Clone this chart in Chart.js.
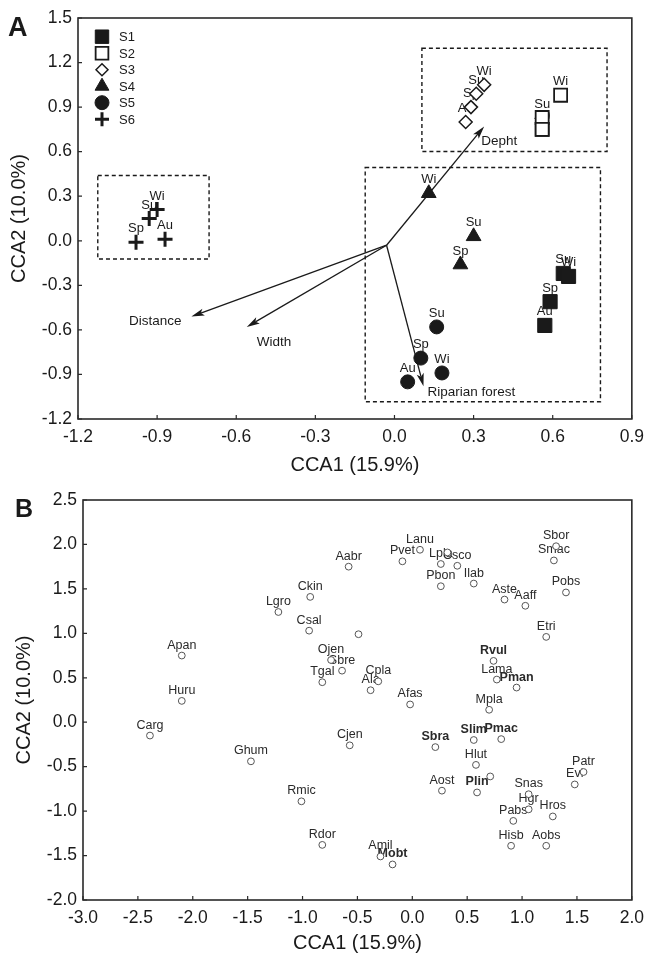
<!DOCTYPE html>
<html>
<head>
<meta charset="utf-8">
<title>CCA ordination</title>
<script src="https://cdn.jsdelivr.net/npm/chart.js@4.4.1/dist/chart.umd.min.js"></script>
<style>
  html, body { margin: 0; padding: 0; background: #fff; }
  .panel { position: absolute; left: 0; }
  #wrapA { top: 0; }
  #wrapB { top: 480px; }
</style>
</head>
<body>
<div class="panel" id="wrapA"><canvas id="chartA" width="652" height="480"></canvas></div>
<div class="panel" id="wrapB"><canvas id="chartB" width="652" height="481"></canvas></div>
<script>
// ---- Panel A: sampling sites by season ----
const siteNames = ["S1", "S2", "S3", "S4", "S5", "S6"];
const siteSeasons = [
  ["Su", "Wi", "Sp", "Au"],
  ["Wi", "Su", "Sp", "Au"],
  ["Au", "Sp", "Su", "Wi"],
  ["Wi", "Su", "Sp"],
  ["Su", "Sp", "Wi", "Au"],
  ["Wi", "Su", "Sp", "Au"],
];
const siteCCA1 = [
  [0.64, 0.66, 0.59, 0.57],
  [0.63, 0.56, 0.56, 0.56],
  [0.27, 0.29, 0.31, 0.34],
  [0.13, 0.30, 0.25],
  [0.16, 0.10, 0.18, 0.05],
  [-0.90, -0.93, -0.98, -0.87],
];
const siteCCA2 = [
  [-0.22, -0.24, -0.41, -0.57],
  [0.98, 0.83, 0.75, 0.75],
  [0.80, 0.90, 0.99, 1.05],
  [0.32, 0.03, -0.16],
  [-0.58, -0.79, -0.89, -0.95],
  [0.21, 0.15, -0.01, 0.01],
];

// environmental vectors (tips) and their common origin
const envNames = ["Depht", "Distance", "Width", "Riparian forest"];
const envCCA1 = [0.34, -0.77, -0.56, 0.11];
const envCCA2 = [0.77, -0.51, -0.58, -0.98];
const envOrigin = [-0.03, -0.03];

// dashed group boxes: [from, to] on each axis
const boxCCA1 = [[-1.125, -0.703], [0.104, 0.806], [-0.111, 0.781]];
const boxCCA2 = [[0.44, -0.123], [1.296, 0.601], [0.493, -1.084]];

const ticksA_x = [-1.2, -0.9, -0.6, -0.3, 0, 0.3, 0.6, 0.9];
const ticksA_y = [-1.2, -0.9, -0.6, -0.3, 0, 0.3, 0.6, 0.9, 1.2, 1.5];

// ---- Panel B: species scores ----
const speciesNames = ["Lanu", "Pvet", "Lpla", "Csco", "", "Aabr", "Pbon", "Ilab", "Sbor", "Smac",
  "Pobs", "Aste", "Aaff", "Ckin", "Lgro", "Csal", "", "Etri", "Apan", "Ojen",
  "Sbre", "Tgal", "Cpla", "Ala", "Rvul", "Lama", "Pman", "Huru", "Afas", "Mpla",
  "Carg", "Cjen", "Sbra", "Slim", "Pmac", "Ghum", "Hlut", "", "Aost", "Plin",
  "Patr", "Evi", "Snas", "Hgr", "Rmic", "Pabs", "Hros", "Hisb", "Aobs", "Rdor",
  "Amil", "Mobt"];
const speciesCCA1 = [0.07, -0.09, 0.26, 0.41, 0.32, -0.58, 0.26, 0.56, 1.31, 1.29,
  1.40, 0.84, 1.03, -0.93, -1.22, -0.94, -0.49, 1.22, -2.10, -0.74,
  -0.64, -0.82, -0.31, -0.38, 0.74, 0.77, 0.95, -2.10, -0.02, 0.70,
  -2.39, -0.57, 0.21, 0.56, 0.81, -1.47, 0.58, 0.71, 0.27, 0.59,
  1.56, 1.48, 1.06, 1.06, -1.01, 0.92, 1.28, 0.90, 1.22, -0.82,
  -0.29, -0.18];
const speciesCCA2 = [1.94, 1.81, 1.78, 1.76, 1.91, 1.75, 1.53, 1.56, 1.98, 1.82,
  1.46, 1.38, 1.31, 1.41, 1.24, 1.03, 0.99, 0.96, 0.75, 0.70,
  0.58, 0.45, 0.46, 0.36, 0.69, 0.48, 0.39, 0.24, 0.20, 0.14,
  -0.15, -0.26, -0.28, -0.20, -0.19, -0.44, -0.48, -0.61, -0.77, -0.79,
  -0.56, -0.70, -0.81, -0.98, -0.89, -1.11, -1.06, -1.39, -1.39, -1.38,
  -1.51, -1.60];
const boldSpecies = ["Rvul", "Pman", "Sbra", "Slim", "Pmac", "Plin", "Mobt"];

const ticksB_x = [-3, -2.5, -2, -1.5, -1, -0.5, 0, 0.5, 1, 1.5, 2];
const ticksB_y = [-2, -1.5, -1, -0.5, 0, 0.5, 1, 1.5, 2, 2.5];

// ---- look ----
const FONT = '"Liberation Sans", Arial, Helvetica, sans-serif';
const INK = "#1a1a1a";

const siteStyle = [
  { pointStyle: "rect", radius: 10, bg: INK, bw: 1 },
  { pointStyle: "rect", radius: 9.2, bg: "#fff", bw: 1.8 },
  { pointStyle: "rectRot", radius: 6.5, bg: "#fff", bw: 1.5 },
  { pointStyle: "triangle", radius: 8.5, bg: INK, bw: 1 },
  { pointStyle: "circle", radius: 7, bg: INK, bw: 1 },
  { pointStyle: "cross", radius: 7.5, bg: INK, bw: 3 },
];
const legendRadius = [9.5, 9, 6, 8, 7, 7];

// label offsets from each arrow tip (px)
const envLabelPos = [
  { align: "left", dx: -3, dy: 19 },
  { align: "right", dx: -10, dy: 8 },
  { align: "left", dx: 10, dy: 19 },
  { align: "left", dx: 4, dy: 10 },
];

Chart.defaults.font.family = FONT;
Chart.defaults.color = INK;

function linearAxis(tickVals, titleText, horizontal, fitSize, titlePad) {
  return {
    type: "linear",
    min: tickVals[0],
    max: tickVals[tickVals.length - 1],
    afterBuildTicks: (s) => { s.ticks = tickVals.map((v) => ({ value: v })); },
    afterFit: (s) => { if (horizontal) s.height = fitSize; else s.width = fitSize; },
    grid: { display: false, drawTicks: false },
    border: { display: false },
    ticks: {
      color: INK,
      padding: horizontal ? 8 : 6,
      autoSkip: false,
      maxRotation: 0,
      font: { family: FONT, size: 17.5 },
      callback: (v) => Number(v).toFixed(1),
    },
    title: {
      display: true,
      text: titleText,
      color: INK,
      font: { family: FONT, size: 20 },
      padding: horizontal ? { top: 0, bottom: titlePad } : { top: titlePad, bottom: 0 },
    },
  };
}

function drawArrow(ctx, x0, y0, x1, y1) {
  const a = Math.atan2(y1 - y0, x1 - x0);
  const c = Math.cos(a), s = Math.sin(a);
  const len = 13, half = 3.6, notch = 10;
  ctx.beginPath();
  ctx.moveTo(x0, y0);
  ctx.lineTo(x1 - c * notch, y1 - s * notch);
  ctx.stroke();
  ctx.beginPath();
  ctx.moveTo(x1, y1);
  ctx.lineTo(x1 - c * len + s * half, y1 - s * len - c * half);
  ctx.lineTo(x1 - c * notch, y1 - s * notch);
  ctx.lineTo(x1 - c * len - s * half, y1 - s * len + c * half);
  ctx.closePath();
  ctx.fill();
}

// frame, inward tick marks and the panel letter
const frameTicks = {
  id: "frameTicks",
  afterDraw(chart, args, opts) {
    const { ctx, chartArea: a, scales: { x, y } } = chart;
    ctx.save();
    ctx.strokeStyle = "#2a2a2a";
    ctx.lineWidth = 1.6;
    ctx.strokeRect(a.left, a.top, a.right - a.left, a.bottom - a.top);
    ctx.lineWidth = 1.2;
    ctx.beginPath();
    x.ticks.forEach((t) => {
      const px = x.getPixelForValue(t.value);
      ctx.moveTo(px, a.bottom);
      ctx.lineTo(px, a.bottom - 4);
    });
    y.ticks.forEach((t) => {
      const py = y.getPixelForValue(t.value);
      ctx.moveTo(a.left, py);
      ctx.lineTo(a.left + 4, py);
    });
    ctx.stroke();
    ctx.fillStyle = INK;
    ctx.font = `bold ${opts.size}px ${FONT}`;
    ctx.textAlign = "left";
    ctx.textBaseline = "alphabetic";
    ctx.fillText(opts.letter, opts.x, opts.y);
    ctx.restore();
  },
};

const panelA = {
  id: "panelA",
  beforeDatasetsDraw(chart) {
    const { ctx, scales: { x, y } } = chart;
    ctx.save();
    ctx.strokeStyle = INK;
    ctx.fillStyle = INK;

    ctx.setLineDash([4, 3]);
    ctx.lineWidth = 1.4;
    boxCCA1.forEach((bx, i) => {
      const x1 = x.getPixelForValue(bx[0]), x2 = x.getPixelForValue(bx[1]);
      const y1 = y.getPixelForValue(boxCCA2[i][0]), y2 = y.getPixelForValue(boxCCA2[i][1]);
      ctx.strokeRect(x1, y1, x2 - x1, y2 - y1);
    });
    ctx.setLineDash([]);

    ctx.lineWidth = 1.3;
    const ox = x.getPixelForValue(envOrigin[0]), oy = y.getPixelForValue(envOrigin[1]);
    ctx.font = `13.5px ${FONT}`;
    ctx.textBaseline = "alphabetic";
    envNames.forEach((name, i) => {
      const tx = x.getPixelForValue(envCCA1[i]), ty = y.getPixelForValue(envCCA2[i]);
      drawArrow(ctx, ox, oy, tx, ty);
      const p = envLabelPos[i];
      ctx.textAlign = p.align;
      ctx.fillText(name, tx + p.dx, ty + p.dy);
    });

    ctx.font = `13px ${FONT}`;
    ctx.textAlign = "center";
    chart.data.datasets.forEach((ds, i) => {
      chart.getDatasetMeta(i).data.forEach((pt, j) => {
        ctx.fillText(siteSeasons[i][j], pt.x, pt.y - 10);
      });
    });
    ctx.restore();
  },
  afterDraw(chart) {
    const { ctx } = chart;
    const draw = Chart.helpers && Chart.helpers.drawPoint;
    ctx.save();
    ctx.font = `13px ${FONT}`;
    ctx.textAlign = "left";
    ctx.textBaseline = "middle";
    siteNames.forEach((name, i) => {
      const cy = 36.7 + i * 16.5;
      const st = siteStyle[i];
      if (draw) {
        ctx.fillStyle = st.bg;
        ctx.strokeStyle = INK;
        ctx.lineWidth = st.bw;
        draw(ctx, { pointStyle: st.pointStyle, radius: legendRadius[i], rotation: 0, borderWidth: st.bw }, 102, cy);
      }
      ctx.fillStyle = INK;
      ctx.fillText(name, 119, cy + 1);
    });
    ctx.restore();
  },
};

const panelB = {
  id: "panelB",
  beforeDatasetsDraw(chart) {
    const { ctx } = chart;
    ctx.save();
    ctx.fillStyle = "#2a2a2a";
    ctx.textAlign = "center";
    ctx.textBaseline = "alphabetic";
    chart.getDatasetMeta(0).data.forEach((pt, j) => {
      const name = speciesNames[j];
      if (!name) return;
      ctx.font = (boldSpecies.includes(name) ? "bold " : "") + `12.5px ${FONT}`;
      ctx.fillText(name, pt.x, pt.y - 7);
    });
    ctx.restore();
  },
};

new Chart(document.getElementById("chartA"), {
  type: "scatter",
  data: {
    datasets: siteNames.map((name, i) => ({
      label: name,
      data: siteCCA1[i].map((v, j) => ({ x: v, y: siteCCA2[i][j] })),
      pointStyle: siteStyle[i].pointStyle,
      pointRadius: siteStyle[i].radius,
      pointBackgroundColor: siteStyle[i].bg,
      pointBorderColor: INK,
      pointBorderWidth: siteStyle[i].bw,
    })),
  },
  options: {
    responsive: false,
    animation: false,
    devicePixelRatio: 1,
    layout: { padding: { top: 18, right: 19, left: 0, bottom: 0 } },
    scales: {
      x: linearAxis(ticksA_x, "CCA1 (15.9%)", true, 61, 3),
      y: linearAxis(ticksA_y, "CCA2 (10.0%)", false, 78, 7),
    },
    plugins: {
      legend: { display: false },
      tooltip: { enabled: false },
      frameTicks: { letter: "A", size: 27, x: 8, y: 36 },
    },
  },
  plugins: [panelA, frameTicks],
});

new Chart(document.getElementById("chartB"), {
  type: "scatter",
  data: {
    datasets: [{
      label: "species",
      data: speciesCCA1.map((v, j) => ({ x: v, y: speciesCCA2[j] })),
      pointStyle: "circle",
      pointRadius: 3.4,
      pointBackgroundColor: "#fff",
      pointBorderColor: "#555",
      pointBorderWidth: 1,
    }],
  },
  options: {
    responsive: false,
    animation: false,
    devicePixelRatio: 1,
    layout: { padding: { top: 20, right: 17, left: 0, bottom: 0 } },
    scales: {
      x: linearAxis(ticksB_x, "CCA1 (15.9%)", true, 61, 6),
      y: linearAxis(ticksB_y, "CCA2 (10.0%)", false, 83, 12),
    },
    plugins: {
      legend: { display: false },
      tooltip: { enabled: false },
      frameTicks: { letter: "B", size: 25, x: 15, y: 37 },
    },
  },
  plugins: [panelB, frameTicks],
});
</script>
</body>
</html>
